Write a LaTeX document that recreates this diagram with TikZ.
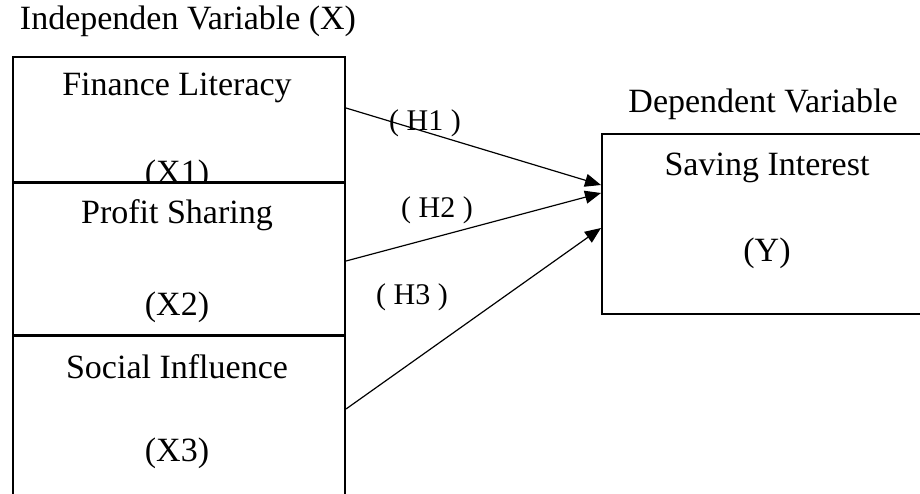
\documentclass[tikz,border=0pt]{standalone}
\usepackage{fontspec}
\setmainfont{Liberation Serif}
\usepackage{tikz}
\usetikzlibrary{arrows.meta,positioning}

\begin{document}
\begin{tikzpicture}[x=1pt, y=-1pt,
varbox/.style={draw, line width=2pt, fill=white, anchor=north west, inner sep=0pt, minimum width=332pt},
lbl/.style={font=\fontsize{34}{40}\selectfont, inner sep=0pt},
hyp/.style={font=\fontsize{30}{36}\selectfont, inner sep=0pt},
arrow/.style={-{Triangle[length=16pt,width=13pt]}, line width=1.2pt}
]
\useasboundingbox (0,0) rectangle (920,493);

\node[lbl] (xtitle) at (188,21) {Independen Variable (X)};
\node[lbl] (ytitle) at (763,104) {Dependent Variable};

% independent variables
\node[varbox, minimum height=125pt] (x1box) at (12,56) {};
\node[lbl] (x1name) at (177,88) {Finance Literacy};
\node[lbl] (x1code) at (177,175) {(X1)};
\node[varbox, minimum height=152pt] (x2box) at (12,182) {};
\node[lbl] (x2name) at (177,215) {Profit Sharing};
\node[lbl] (x2code) at (177,307) {(X2)};
\node[varbox, minimum height=190pt] (x3box) at (12,335) {};
\node[lbl] (x3name) at (177,367) {Social Influence};
\node[lbl] (x3code) at (177,453) {(X3)};

% dependent variable
\node[varbox, minimum width=330pt, minimum height=180pt] (ybox) at (601,133) {};
\node[lbl] (yname) at (767,168) {Saving Interest};
\node[lbl] (ycode) at (767,253) {(Y)};

\draw[arrow] ([yshift=11.5pt]x1box.east) -- ([yshift=39pt]ybox.west);
\draw[arrow] ([yshift=-2pt]x2box.east) -- ([yshift=31pt]ybox.west);
\draw[arrow] ([yshift=22pt]x3box.east) -- ([yshift=-4pt]ybox.west);

\node[hyp] (h1) at (425,123) {( H1 )};
\node[hyp] (h2) at (437,210) {( H2 )};
\node[hyp] (h3) at (412,297) {( H3 )};
\end{tikzpicture}
\end{document}
